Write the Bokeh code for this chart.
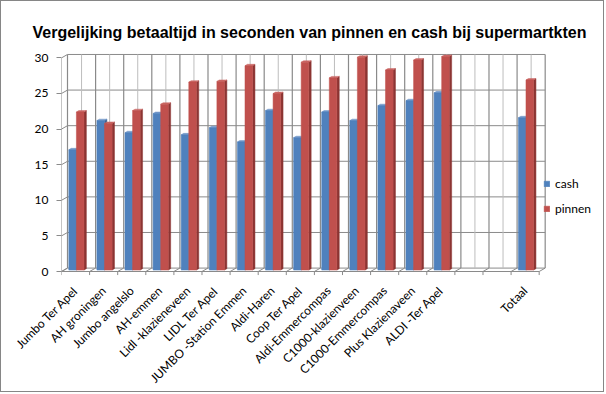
from math import pi
from bokeh.plotting import figure
from bokeh.models import Range1d, FixedTicker, Legend, LegendItem
from bokeh.embed import file_html
from bokeh.resources import INLINE

categories = ["Jumbo Ter Apel", "AH groningen", "Jumbo angelslo", "AH-emmen",
              "Lidl -klazieneveen", "LIDL Ter Apel", "JUMBO -Station Emmen",
              "Aldi-Haren", "Coop Ter Apel", "Aldi-Emmercompas", "C1000-klazienveen",
              "C1000-Emmercompas", "Plus Klazienaveen", "ALDI -Ter Apel", "", "", "Totaal"]
cash = [16.9, 21.0, 19.3, 22.0, 19.0, 20.0, 18.0, 22.4, 18.6, 22.2, 21.0, 23.1, 23.8, 24.9,
        None, None, 21.4]
pinnen = [22.2, 20.6, 22.4, 23.3, 26.4, 26.5, 28.7, 24.8, 29.2, 27.0, 29.9, 28.1, 29.5, 30.0,
          None, None, 26.7]
y_ticks = [0, 5, 10, 15, 20, 25, 30]
title_text = "Vergelijking betaaltijd in seconden van pinnen en cash bij supermartkten"

N = len(categories)
DX, DY = 0.2135, 0.48        # depth of the back wall (data units)
BDX, BDY = 0.085, 0.2        # depth of a bar
BASE = 0.2                   # bars stand mid-depth on the floor
GRID = "#8a8a8a"
GRID_LIGHT = "#bdbdbd"

p = figure(width=604, height=392, x_range=Range1d(-0.5, 18.86), y_range=Range1d(-0.702, 31.60),
           output_backend="svg", toolbar_location=None,
           min_border_left=60, min_border_right=0, min_border_top=45, min_border_bottom=117)
p.outline_line_color = None
p.grid.visible = False
p.background_fill_color = "white"
p.border_fill_color = "white"
p.styles = {"border": "1px solid #868686"}

p.title.text = title_text
p.title.align = "left"
p.title.offset = -29
p.title.standoff = 11
p.title.text_font = "Liberation Sans"
p.title.text_font_style = "bold"
p.title.text_font_size = "16px"
p.title.text_color = "black"

x0, x1 = -0.5, N - 0.5
ymax = y_ticks[-1]

# back wall horizontal grid + side wall slants
hx0, hy0, hx1, hy1 = [], [], [], []
for v in y_ticks:
    hx0 += [x0 + DX, x0]; hy0 += [v + DY, v]
    hx1 += [x1 + DX, x0 + DX]; hy1 += [v + DY, v + DY]
p.segment(hx0, hy0, hx1, hy1, line_color=GRID, line_width=1)

# back wall vertical lines (category centers lighter)
cx = [i + DX for i in range(N)]
p.segment(cx, [DY] * N, cx, [ymax + DY] * N, line_color=GRID_LIGHT, line_width=1)
bx = [i - 0.5 + DX for i in range(N + 1)]
p.segment(bx, [DY] * (N + 1), bx, [ymax + DY] * (N + 1), line_color=GRID, line_width=1.2)

# floor: front edge, slants at boundaries, ticks; left front axis line
fb = [i - 0.5 for i in range(N + 1)]
p.segment(fb, [0] * (N + 1), [b + DX for b in fb], [DY] * (N + 1), line_color=GRID, line_width=1)
p.segment(fb, [0] * (N + 1), fb, [-0.5] * (N + 1), line_color=GRID, line_width=1)
p.segment([x0], [0], [x1], [0], line_color=GRID, line_width=1)
p.segment([x0], [0], [x0], [ymax], line_color=GRID, line_width=1)

def bars(vals, off_l, off_r, front, top, side):
    idx = [i for i, v in enumerate(vals) if v is not None]
    L = [i + off_l for i in idx]
    R = [i + off_r for i in idx]
    T = [vals[i] + BASE for i in idx]
    B = [BASE] * len(idx)
    sx = [[r, r + BDX, r + BDX, r] for r in R]
    sy = [[BASE, BASE + BDY, t + BDY, t] for t in T]
    p.patches(sx, sy, fill_color=side, line_color=side, line_width=0.5)
    tx = [[l, r, r + BDX, l + BDX] for l, r in zip(L, R)]
    ty = [[t, t, t + BDY, t + BDY] for t in T]
    p.patches(tx, ty, fill_color=top, line_color=top, line_width=0.5)
    return p.quad(left=L, right=R, bottom=B, top=T, fill_color=front, line_color=front, line_width=0.5)

r_cash = bars(cash, -0.24, 0.03, "#4F81BD", "#7096C8", "#3B6293")
r_pin = bars(pinnen, 0.03, 0.30, "#C0504D", "#CB6966", "#8C3533")

# axes
p.xaxis.ticker = FixedTicker(ticks=[i for i, c in enumerate(categories) if c])
p.xaxis.major_label_overrides = {i: c for i, c in enumerate(categories) if c}
p.xaxis.major_label_orientation = pi / 4
p.xaxis.axis_line_color = None
p.xaxis.major_tick_line_color = None
p.xaxis.minor_tick_line_color = None
p.xaxis.major_label_standoff = 6
p.xaxis.major_label_text_font = "Lato"
p.xaxis.major_label_text_font_size = "12px"
p.xaxis.major_label_text_color = "black"

p.yaxis.ticker = FixedTicker(ticks=y_ticks)
p.yaxis.axis_line_color = None
p.yaxis.major_tick_in = 0
p.yaxis.major_tick_out = 5
p.yaxis.major_tick_line_color = GRID
p.yaxis.minor_tick_line_color = None
p.yaxis.major_label_standoff = 8
p.yaxis.major_label_text_font = "Lato"
p.yaxis.major_label_text_font_size = "12px"
p.yaxis.major_label_text_color = "black"

legend = Legend(items=[LegendItem(label="cash", renderers=[r_cash]),
                       LegendItem(label="pinnen", renderers=[r_pin])],
                location=(482, 60), glyph_width=7, glyph_height=7, label_height=14,
                label_standoff=5, spacing=10, padding=0, margin=0,
                border_line_color=None, background_fill_alpha=0,
                label_text_font="Lato", label_text_font_size="12px", label_text_color="black")
p.add_layout(legend)

open("out.html", "w").write(file_html(p, INLINE))
